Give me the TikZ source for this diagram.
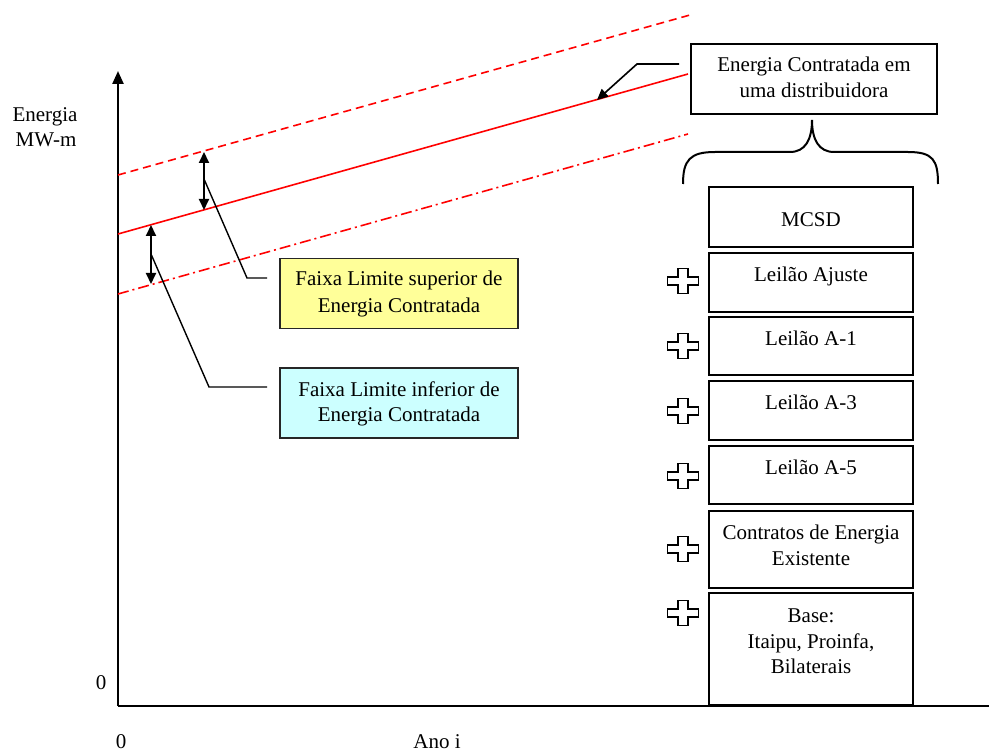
\documentclass[tikz,border=0pt]{standalone}
\usepackage{fontspec}
\setmainfont{Liberation Serif}
\usetikzlibrary{arrows.meta}
\begin{document}
\begin{tikzpicture}[x=1pt,y=-1pt,
  lbl/.style={font=\fontsize{21}{26}\selectfont, inner sep=0pt, align=center},
  axis/.style={line width=2.4pt},
  refline/.style={red, line width=1.6pt},
  gap/.style={line width=2pt, {Triangle[width=10pt,length=11pt]}-{Triangle[width=10pt,length=11pt]}},
  leader/.style={line width=1.4pt},
  stackbox/.style={draw, line width=2pt, minimum width=204pt, inner sep=0pt},
  callout/.style={draw=black!85, line width=1.4pt, minimum width=238pt, minimum height=70pt, inner sep=0pt},
  plussign/.pic={\draw[line width=1.6pt] (-5,-12.5) -- (5,-12.5) -- (5,-4) -- (15.5,-4) -- (15.5,4) -- (5,4)
      -- (5,12.5) -- (-5,12.5) -- (-5,4) -- (-15.5,4) -- (-15.5,-4) -- (-5,-4) -- cycle;}
]
\useasboundingbox (0,0) rectangle (989,751);

% axes
\coordinate (o) at (118,706);
\coordinate (ytop) at (118,71);
\coordinate (xend) at (989,706);
\draw[axis, -{Triangle[width=11pt,length=13pt]}] (o) -- (ytop);
\draw[axis] (o) -- (xend);

\node[lbl, anchor=base] (ylab1) at (45,122) {Energia};
\node[lbl, anchor=base] (ylab2) at (46,147) {MW-m};
\node[lbl, anchor=base] (yzero) at (101,689) {0};
\node[lbl, anchor=base] (xzero) at (121,748) {0};
\node[lbl, anchor=base] (xlab) at (437,748) {Ano i};

% contracted energy and its upper / lower limits
\coordinate (s0) at (118,234); \coordinate (s1) at (688,74);
\coordinate (u0) at (118,175); \coordinate (u1) at (690,15);
\coordinate (l0) at (118,294); \coordinate (l1) at (688,134);
\draw[refline] (s0) -- (s1);
\draw[refline, dash pattern=on 8pt off 5pt] (u0) -- (u1);
\draw[refline, dash pattern=on 11pt off 4pt on 2pt off 4pt] (l0) -- (l1);

% band widths
\coordinate (ua) at (204,152); \coordinate (ub) at (204,210);
\coordinate (la) at (151,225); \coordinate (lb) at (151,284);
\draw[gap] (ua) -- (ub);
\draw[gap] (la) -- (lb);

% band callouts
\node[callout, fill={rgb,255:red,255;green,255;blue,153}] (sup) at (399,293.5) {};
\node[lbl, anchor=base] (supt1) at (399,286) {Faixa Limite superior de};
\node[lbl, anchor=base] (supt2) at (399,313) {Energia Contratada};
\node[callout, fill={rgb,255:red,204;green,255;blue,255}] (inf) at (399,403) {};
\node[lbl, anchor=base] (inft1) at (399,397) {Faixa Limite inferior de};
\node[lbl, anchor=base] (inft2) at (399,422) {Energia Contratada};

\coordinate (k1) at (204,179); \coordinate (k1b) at (247,278); \coordinate (k1e) at (267,278);
\coordinate (k2) at (151,254); \coordinate (k2b) at (209,387); \coordinate (k2e) at (267,387);
\draw[leader] (k1) -- (k1b) -- (k1e);
\draw[leader] (k2) -- (k2b) -- (k2e);

% distributor callout
\node[draw, line width=2pt, minimum width=246pt, minimum height=70pt, inner sep=0pt] (dist) at (814,79) {};
\node[lbl, anchor=base] (distt1) at (814,72) {Energia Contratada em};
\node[lbl, anchor=base] (distt2) at (814,98) {uma distribuidora};
\coordinate (d0) at (679,64); \coordinate (d1) at (637,64); \coordinate (d2) at (597,100);
\draw[leader, line width=1.6pt, -{Triangle[width=10pt,length=11pt]}] (d0) -- (d1) -- (d2);

% brace over the stack
\draw[line width=2pt] (683,184) .. controls (683,160) and (690,152) .. (715,152) -- (790,152)
  .. controls (805,152) and (812,140) .. (812,120)
  .. controls (812,140) and (819,152) .. (834,152) -- (908,152)
  .. controls (933,152) and (938,160) .. (938,184);

% contract stack
\node[stackbox, minimum height=60pt] (mcsd) at (811,217) {};
\node[lbl, anchor=base] (mcsdt) at (811,227) {MCSD};
\node[stackbox, minimum height=59pt] (aj) at (811,282.5) {};
\node[lbl, anchor=base] (ajt) at (811,282) {Leilão Ajuste};
\node[stackbox, minimum height=58pt] (a1) at (811,346) {};
\node[lbl, anchor=base] (a1t) at (811,346) {Leilão A-1};
\node[stackbox, minimum height=59pt] (a3) at (811,410.5) {};
\node[lbl, anchor=base] (a3t) at (811,410) {Leilão A-3};
\node[stackbox, minimum height=58pt] (a5) at (811,475) {};
\node[lbl, anchor=base] (a5t) at (811,475) {Leilão A-5};
\node[stackbox, minimum height=77pt] (ce) at (811,549.5) {};
\node[lbl, anchor=base] (cet1) at (811,539) {Contratos de Energia};
\node[lbl, anchor=base] (cet2) at (811,565) {Existente};
\node[stackbox, minimum height=112pt] (base) at (811,649) {};
\node[lbl, anchor=base] (baset1) at (811,622) {Base:};
\node[lbl, anchor=base] (baset2) at (811,648) {Itaipu, Proinfa,};
\node[lbl, anchor=base] (baset3) at (811,673) {Bilaterais};

% plus signs between the stacked contracts
\pic at (683,281) {plussign};
\pic at (683,346) {plussign};
\pic at (683,411) {plussign};
\pic at (683,476) {plussign};
\pic at (683,549) {plussign};
\pic at (683,613) {plussign};
\end{tikzpicture}
\end{document}
